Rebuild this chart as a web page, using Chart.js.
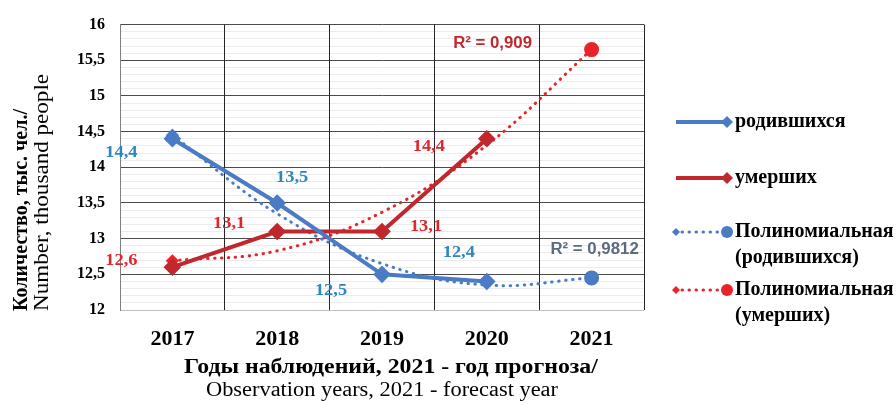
<!DOCTYPE html>
<html>
<head>
<meta charset="utf-8">
<script src="https://cdn.jsdelivr.net/npm/chart.js@4.4.1/dist/chart.umd.min.js"></script>
<style>
    html, body { margin: 0; padding: 0; background: #fff; }
    #wrap { width: 896px; height: 405px; }
</style>
</head>
<body>
<div id="wrap"><canvas id="chart"></canvas></div>
<script>
// Данные графика
const years = ["2017", "2018", "2019", "2020", "2021"];
const born = [14.4, 13.5, 12.5, 12.4, null];
const died = [12.6, 13.1, 13.1, 14.4, null];
const bornTrend = [14.45, 13.35, 12.65, 12.35, 12.45];
const diedTrend = [12.69, 12.83, 13.37, 14.31, 15.65];
const legendNames = ["родившихся", "умерших", ["Полиномиальная", "(родившихся)"], ["Полиномиальная", "(умерших)"]];
const r2Labels = ["R² = 0,9812", "R² = 0,909"];
const yTitle = ["Количество, тыс. чел./", "Number, thousand people"];
const xTitle = ["Годы наблюдений, 2021 - год прогноза/", "Observation years, 2021 - forecast year"];

const BLUE = "#4a7bc4";
const RED = "#c0282e";
const RED_T = "#e8232a";
const SERIF = "'Liberation Serif', 'Times New Roman', serif";

const fmt = v => String(v).replace(".", ",");
const isMajor = v => Math.abs(v * 2 - Math.round(v * 2)) < 1e-6;

// Текст, растянутый по горизонтали (как в исходной картинке)
function wideText(ctx, text, x, y, sx) {
    ctx.save();
    ctx.translate(x, y);
    ctx.scale(sx, 1);
    ctx.fillText(text, 0, 0);
    ctx.restore();
}

// Подписи значений и R²
const valueLabels = {
    id: "valueLabels",
    afterDatasetsDraw(chart) {
        const ctx = chart.ctx;
        const sets = [
            { index: 0, color: "#2e86c1", off: [[-51, 14], [15, -25], [-51, 17], [-28, -29]] },
            { index: 1, color: "#e0262d", off: [[-51, -6], [-48, -8], [44, -5], [-58, 8]] }
        ];
        ctx.save();
        ctx.textAlign = "center";
        ctx.textBaseline = "middle";
        ctx.font = "bold 16px " + SERIF;
        sets.forEach(s => {
            const meta = chart.getDatasetMeta(s.index);
            chart.data.datasets[s.index].data.forEach((v, i) => {
                if (v == null) return;
                const p = meta.data[i];
                ctx.fillStyle = s.color;
                wideText(ctx, fmt(v), p.x + s.off[i][0], p.y + s.off[i][1], 1.15);
            });
        });

        // R² рядом с последней точкой тренда
        ctx.font = "bold 16px 'Liberation Sans', Arial, sans-serif";
        const pb = chart.getDatasetMeta(2).data[4];
        ctx.fillStyle = "#5b6b7e";
        wideText(ctx, r2Labels[0], pb.x + 3, pb.y - 28, 1.05);
        const pd = chart.getDatasetMeta(3).data[4];
        ctx.fillStyle = RED;
        wideText(ctx, r2Labels[1], pd.x - 99, pd.y - 6, 1.05);
        ctx.restore();
    }
};

// Заголовки осей и легенда
const titlesAndLegend = {
    id: "titlesAndLegend",
    afterDraw(chart) {
        const ctx = chart.ctx;
        const area = chart.chartArea;
        ctx.save();
        ctx.fillStyle = "#000";
        ctx.textBaseline = "middle";

        // Ось Y
        ctx.save();
        ctx.translate(22, 311);
        ctx.rotate(-Math.PI / 2);
        ctx.textAlign = "left";
        ctx.font = "bold 20px " + SERIF;
        ctx.fillText(yTitle[0], 0, 0);
        ctx.font = "22px " + SERIF;
        wideText(ctx, yTitle[1], 0, 20, 1.05);
        ctx.restore();

        // Ось X
        const cx = (area.left + area.right) / 2;
        ctx.textAlign = "center";
        ctx.font = "bold 20px " + SERIF;
        wideText(ctx, xTitle[0], cx + 9, 368, 1.19);
        ctx.font = "20px " + SERIF;
        wideText(ctx, xTitle[1], cx, 391, 1.12);

        // Легенда
        const rows = [122, 178, 232, 290];
        const x1 = 676, x2 = 727, tx = 735;
        const styles = [
            { color: BLUE, dotted: false },
            { color: RED, dotted: false },
            { color: BLUE, dotted: true },
            { color: RED_T, dotted: true }
        ];
        styles.forEach((s, i) => {
            const y = rows[i];
            ctx.strokeStyle = s.color;
            ctx.fillStyle = s.color;
            if (s.dotted) {
                ctx.lineWidth = 3;
                ctx.lineCap = "round";
                ctx.setLineDash([0.5, 6.5]);
                ctx.beginPath(); ctx.moveTo(x1 + 6, y); ctx.lineTo(x2 - 5, y); ctx.stroke();
                ctx.setLineDash([]);
                ctx.beginPath();
                ctx.moveTo(x1 - 4, y); ctx.lineTo(x1, y - 4); ctx.lineTo(x1 + 4, y); ctx.lineTo(x1, y + 4);
                ctx.closePath(); ctx.fill();
                ctx.beginPath(); ctx.arc(x2, y, 6, 0, Math.PI * 2); ctx.fill();
            } else {
                ctx.lineWidth = 4;
                ctx.lineCap = "butt";
                ctx.beginPath(); ctx.moveTo(x1, y); ctx.lineTo(x2, y); ctx.stroke();
                ctx.beginPath();
                ctx.moveTo(x2 - 6, y); ctx.lineTo(x2, y - 6); ctx.lineTo(x2 + 6, y); ctx.lineTo(x2, y + 6);
                ctx.closePath(); ctx.fill();
            }
            ctx.fillStyle = "#000";
            ctx.textAlign = "left";
            ctx.font = "bold 20px " + SERIF;
            const name = legendNames[i];
            if (Array.isArray(name)) {
                ctx.fillText(name[0], tx, y);
                ctx.fillText(name[1], tx, y + 26);
            } else {
                ctx.fillText(name, tx, y);
            }
        });
        ctx.restore();
    }
};

const config = {
    type: "line",
    data: {
        labels: years,
        datasets: [
            {
                label: "родившихся",
                data: born,
                borderColor: BLUE,
                backgroundColor: BLUE,
                borderWidth: 4,
                pointStyle: "rectRot",
                pointRadius: 6,
                tension: 0
            },
            {
                label: "умерших",
                data: died,
                borderColor: RED,
                backgroundColor: RED,
                borderWidth: 4,
                pointStyle: "rectRot",
                pointRadius: 6,
                tension: 0
            },
            {
                label: "Полиномиальная (родившихся)",
                data: bornTrend,
                borderColor: BLUE,
                backgroundColor: BLUE,
                borderWidth: 3,
                borderDash: [0.5, 6.5],
                borderCapStyle: "round",
                pointStyle: ["rectRot", false, false, false, "circle"],
                pointRadius: [4.5, 0, 0, 0, 6],
                tension: 0.4
            },
            {
                label: "Полиномиальная (умерших)",
                data: diedTrend,
                borderColor: RED_T,
                backgroundColor: RED_T,
                borderWidth: 3,
                borderDash: [0.5, 6.5],
                borderCapStyle: "round",
                pointStyle: ["rectRot", false, false, false, "circle"],
                pointRadius: [4.5, 0, 0, 0, 6],
                tension: 0.4
            }
        ]
    },
    options: {
        responsive: true,
        maintainAspectRatio: false,
        animation: false,
        layout: { padding: { top: 19, right: 252, left: 0, bottom: 0 } },
        plugins: {
            legend: { display: false },
            tooltip: { enabled: false }
        },
        scales: {
            x: {
                offset: true,
                afterFit(s) { s.height = 95; },
                grid: {
                    offset: true,
                    drawTicks: false,
                    z: 0,
                    color: c => c.index === 0 ? "#808080" : "#262626"
                },
                border: { display: false },
                ticks: {
                    color: "#000",
                    padding: 16,
                    font: { family: SERIF, size: 22, weight: "bold" }
                }
            },
            y: {
                min: 12,
                max: 16,
                afterFit(s) { s.width = 120; },
                grid: {
                    drawTicks: false,
                    z: -1,
                    color: c => {
                        const v = c.tick.value;
                        if (Math.abs(v - 12) < 1e-6) return "#bfbfbf";
                        return isMajor(v) ? "#4a4a4a" : "#ececec";
                    }
                },
                border: { display: true, color: "#808080" },
                ticks: {
                    stepSize: 0.1,
                    autoSkip: false,
                    color: "#000",
                    padding: 15,
                    font: { family: SERIF, size: 16, weight: "bold" },
                    callback: v => isMajor(v) ? fmt(Math.round(v * 2) / 2) : ""
                }
            }
        }
    },
    plugins: [valueLabels, titlesAndLegend]
};

new Chart(document.getElementById("chart"), config);
</script>
</body>
</html>
